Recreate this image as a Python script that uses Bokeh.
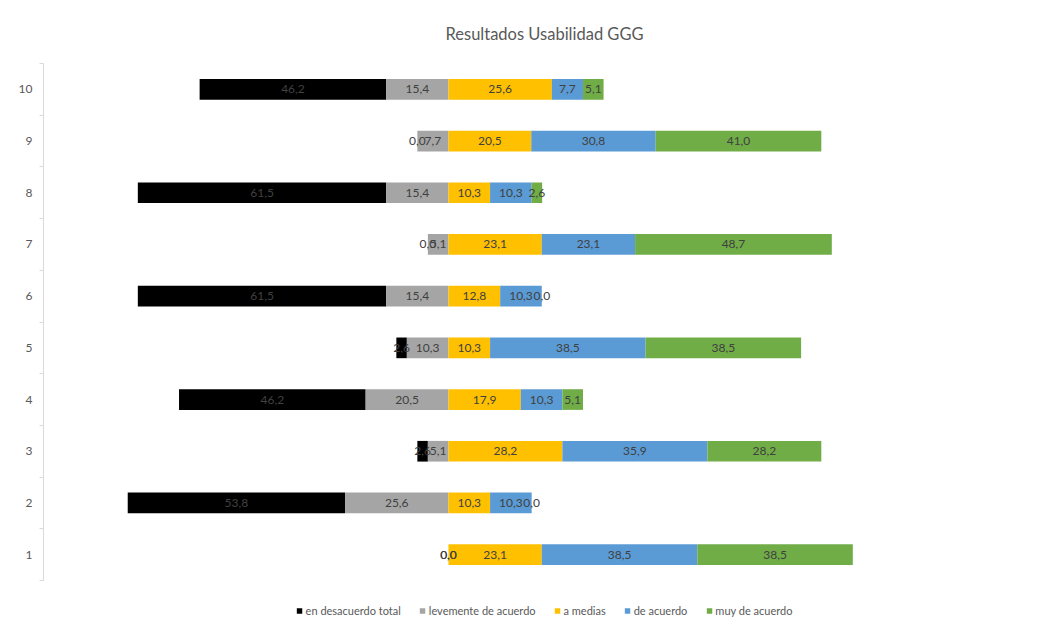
from bokeh.plotting import figure
from bokeh.models import ColumnDataSource, Range1d, FixedTicker, Legend, LegendItem
from bokeh.core.properties import value
from bokeh.embed import file_html
from bokeh.resources import INLINE

title = "Resultados Usabilidad GGG"
categories = [1, 2, 3, 4, 5, 6, 7, 8, 9, 10]
series_names = ["en desacuerdo total", "levemente de acuerdo", "a medias", "de acuerdo", "muy de acuerdo"]
desacuerdo_total = [0.0, 53.8, 2.6, 46.2, 2.6, 61.5, 0.0, 61.5, 0.0, 46.2]
levemente = [0.0, 25.6, 5.1, 20.5, 10.3, 15.4, 5.1, 15.4, 7.7, 15.4]
a_medias = [23.1, 10.3, 28.2, 17.9, 10.3, 12.8, 23.1, 10.3, 20.5, 25.6]
de_acuerdo = [38.5, 10.3, 35.9, 10.3, 38.5, 10.3, 23.1, 10.3, 30.8, 7.7]
muy_de_acuerdo = [38.5, 0.0, 28.2, 5.1, 38.5, 0.0, 48.7, 2.6, 41.0, 5.1]
colors = ["#000000", "#a5a5a5", "#ffc000", "#5b9bd5", "#70ad47"]

FONT = "Lato"

def fmt(v):
    return f"{v:.1f}".replace(".", ",")

series_vals = [desacuerdo_total, levemente, a_medias, de_acuerdo, muy_de_acuerdo]

# compute segment extents (left side negative, right side positive)
segments = []
for i in range(len(categories)):
    k = desacuerdo_total[i]
    g = levemente[i]
    y = a_medias[i]
    b = de_acuerdo[i]
    gr = muy_de_acuerdo[i]
    segments.append([(-(g + k), -g), (-g, 0.0), (0.0, y), (y, y + b), (y + b, y + b + gr)])

# frame spans 63..620 px; categories occupy 63..580 (51.7 px per unit); legend lives below
y_lo = 10.5 - 557 / 51.7
p = figure(width=1055, height=627, output_backend="svg", toolbar_location=None,
           x_range=Range1d(-100.25, 147.8), y_range=Range1d(y_lo, 10.5),
           min_border_left=43, min_border_right=10, min_border_top=63, min_border_bottom=7)
p.title.text = title
p.title.align = "center"
p.title.text_font = FONT
p.title.text_font_size = "16.5px"
p.title.text_font_style = "normal"
p.title.text_color = "#595959"
p.title.standoff = 39

p.outline_line_color = None
p.xgrid.visible = False
p.ygrid.visible = False
p.xaxis.visible = False
p.background_fill_color = "white"
p.border_fill_color = "white"

yax = p.yaxis[0]
yax.bounds = (0.5, 10.5)
yax.ticker = FixedTicker(ticks=categories, minor_ticks=[c - 0.5 for c in categories] + [categories[-1] + 0.5])
yax.axis_line_color = "#d9d9d9"
yax.major_tick_out = 0
yax.major_tick_in = 0
yax.minor_tick_out = 4
yax.minor_tick_in = 0
yax.minor_tick_line_color = "#d9d9d9"
yax.major_label_text_font = FONT
yax.major_label_text_font_size = "12px"
yax.major_label_text_color = "#595959"
yax.major_label_standoff = 7

items = []
sources = []
for s in range(5):
    lefts = [segments[i][s][0] for i in range(len(categories))]
    rights = [segments[i][s][1] for i in range(len(categories))]
    vals = series_vals[s]
    src = ColumnDataSource(dict(y=categories, left=lefts, right=rights,
                                xc=[(a + b) / 2 for a, b in zip(lefts, rights)],
                                lab=[fmt(v) for v in vals]))
    sources.append(src)
    r = p.hbar(y="y", left="left", right="right", height=0.4, source=src,
               fill_color=colors[s], line_color=None)
    items.append(LegendItem(label=series_names[s], renderers=[r]))

for src in sources:
    p.text(x="xc", y="y", text="lab", source=src, text_align="center", text_baseline="middle",
           text_font=value(FONT), text_font_size="12px", text_color="#404040")

legend = Legend(items=items, orientation="horizontal", location="bottom_center",
                glyph_width=7, glyph_height=7, label_standoff=3, spacing=18,
                label_text_font=FONT, label_text_font_size="11px", label_text_color="#595959",
                border_line_color=None, background_fill_alpha=0, padding=0, margin=0,
                label_height=20)
p.add_layout(legend, "center")

open("out.html", "w").write(file_html(p, INLINE))
